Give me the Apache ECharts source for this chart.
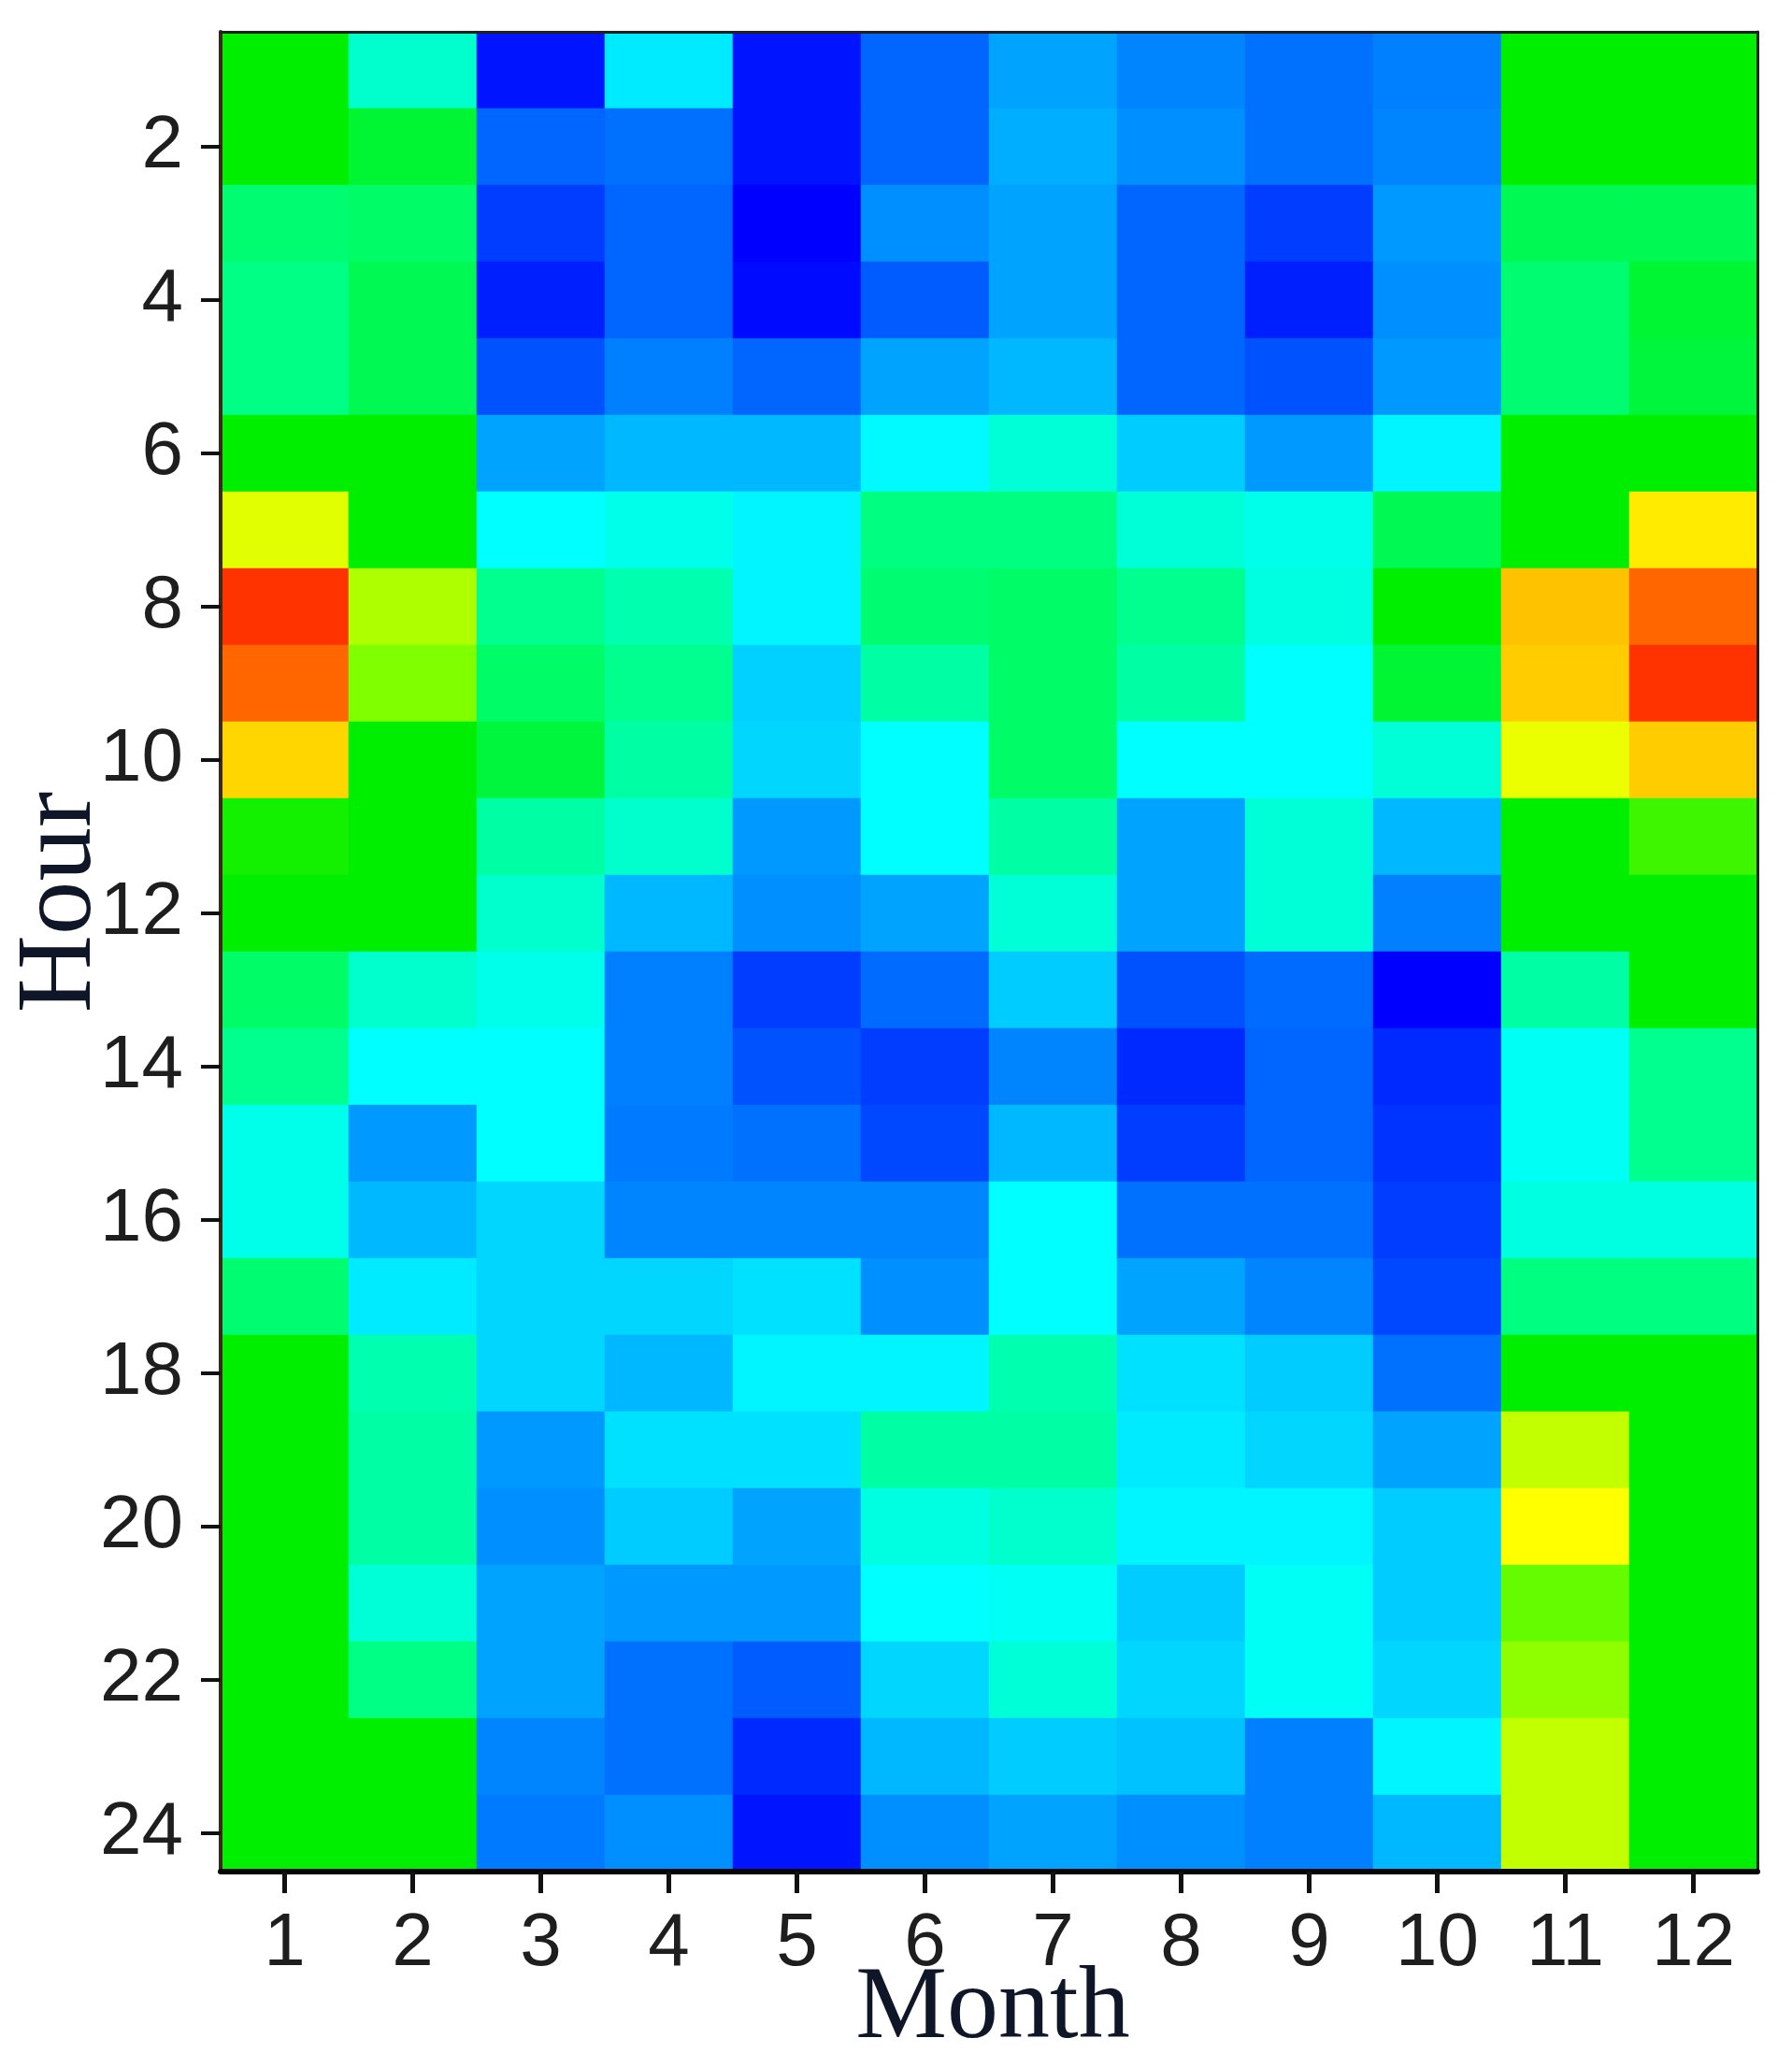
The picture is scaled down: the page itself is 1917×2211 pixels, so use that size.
<!DOCTYPE html>
<html>
<head>
<meta charset="utf-8">
<script src="https://cdn.jsdelivr.net/npm/echarts@6/dist/echarts.min.js"></script>
<style>
html,body{margin:0;padding:0;background:#ffffff;}
#c{width:1917px;height:2211px;}
</style>
</head>
<body>
<div id="c"></div>
<script>
// Categories
const months = ['1','2','3','4','5','6','7','8','9','10','11','12'];
const hours = ['1','2','3','4','5','6','7','8','9','10','11','12','13','14','15','16','17','18','19','20','21','22','23','24'];

// Values per month (hour 1 .. 24), relative scale 0-100
const m1  = [50,50,39,37,37,50,72,95,90,79,52,50,40,36,27,27,39,50,50,50,50,50,50,50];
const m2  = [30,45,40,42,42,50,50,67,62.5,50,50,50,30,25,15,18,23,33,34,34,29,37,50,50];
const m3  = [2,10,6,3,8,16,25,36,40,44,34,30,27,25,25,21,21,21,15,14,16,16,13,12];
const m4  = [23,11,10,10,12.5,18,27,33,36,34,30,18,12.5,12.5,12,13,21,18,22,20,15,11,11,14];
const m5  = [2,2,0,1,10,18,24,24,20.5,21,15,14,6,8,11,13,22,24,22,16,15,9,4,2];
const m6  = [10,10,14,9,16,24.5,37.5,39,34,25,25,16,10.5,6,7,13,14,24,34,28,25,21,18,14];
const m7  = [16,17,16,16,18,29,37.5,40,40,40,34,29,20,13,18,25,25,33,34,30,26,29,20,16];
const m8  = [13,14,10,10,10,20,29,36,34,25,16,16,8,4,6,11,16,22,23,24,20,21,19,14];
const m9  = [11,11,6,3,8,15,27,28,25,25,29,29,10.5,10,10,11,13,20,21,24,26,26,12.5,12.5];
const m10 = [12.5,13,15,14,15,24,42,50,45,29,18,12.5,0,4,5,6,7,11,16,20,20,21,24,18];
const m11 = [50,50,42,39,39,50,50,81,80,73,50,50,34,26,26,28,37.5,50,69,75,60,64,69,69];
const m12 = [50,50,42,45,44,50,77,90,95,80,56,50,50,36,36,28,37.5,50,50,50,50,50,50,50];

const monthValues = [m1,m2,m3,m4,m5,m6,m7,m8,m9,m10,m11,m12];
const data = [];
monthValues.forEach((col, i) => col.forEach((v, j) => data.push([i, j, v])));

const evenOnly = (idx) => idx % 2 === 1;
const tickFont = {fontFamily: '"Liberation Sans", Arial, sans-serif', fontSize: 80, color: '#1e1e1e'};

const chart = echarts.init(document.getElementById('c'), null, {renderer: 'canvas'});
chart.setOption({
  backgroundColor: '#ffffff',
  animation: false,
  grid: {left: 236, right: 37, top: 34, bottom: 209, containLabel: false},
  xAxis: [{
    type: 'category', data: months, position: 'bottom', z: 10,
    axisLine: {show: true, lineStyle: {color: '#050505', width: 6}},
    axisTick: {show: true, alignWithLabel: true, length: 23, lineStyle: {color: '#111', width: 5}},
    axisLabel: Object.assign({margin: 38}, tickFont),
    splitLine: {show: false}
  }, {
    type: 'category', data: months, position: 'top', z: 10,
    axisLine: {show: true, lineStyle: {color: '#202020', width: 3}},
    axisTick: {show: false}, axisLabel: {show: false}, splitLine: {show: false}
  }],
  yAxis: [{
    type: 'category', data: hours, inverse: true, position: 'left', z: 10,
    axisLine: {show: true, lineStyle: {color: '#3a2818', width: 4}},
    axisTick: {show: true, alignWithLabel: true, interval: evenOnly, length: 21, lineStyle: {color: '#111', width: 4}},
    axisLabel: Object.assign({margin: 40, interval: evenOnly}, tickFont),
    splitLine: {show: false}
  }, {
    type: 'category', data: hours, inverse: true, position: 'right', z: 10,
    axisLine: {show: true, lineStyle: {color: '#202020', width: 3}},
    axisTick: {show: false}, axisLabel: {show: false}, splitLine: {show: false}
  }],
  visualMap: {
    show: false, type: 'continuous', min: 0, max: 100, dimension: 2, seriesIndex: 0,
    inRange: {color: ['#0000ff','#0080ff','#00ffff','#00ff80','#00ee00','#80ff00','#ffff00','#ff8000','#ff0000']}
  },
  series: [{
    type: 'heatmap', xAxisIndex: 0, yAxisIndex: 0, data: data,
    progressive: 0,
    itemStyle: {borderWidth: 0},
    emphasis: {disabled: true}
  }],
  graphic: [{
    type: 'text', x: 1062, y: 2150, z: 20,
    style: {text: 'Month', fill: '#0f1628', font: '110px "Liberation Serif", "Times New Roman", serif', align: 'center', verticalAlign: 'middle'}
  }, {
    type: 'text', x: 66, y: 965, rotation: Math.PI / 2, z: 20,
    style: {text: 'Hour', fill: '#0f1628', font: '115px "Liberation Serif", "Times New Roman", serif', align: 'center', verticalAlign: 'middle'}
  }]
});
</script>
</body>
</html>
